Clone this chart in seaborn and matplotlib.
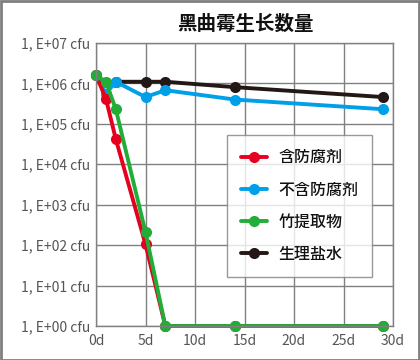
import numpy as np
import pandas as pd
import matplotlib
matplotlib.use("Agg")
import matplotlib.pyplot as plt
import seaborn as sns
from matplotlib.patches import Rectangle

sns.set_theme(style="white")
plt.rcParams['font.family'] = ['Noto Sans CJK JP', 'DejaVu Sans']

series_names = ["含防腐剂", "不含防腐剂", "竹提取物", "生理盐水"]
days_red = [0, 1, 2, 5, 7, 14, 29]
vals_red = [1.6e6, 4.2e5, 4.2e4, 1.05e2, 1, 1, 1]
days_blue = [0, 1, 2, 5, 7, 14, 29]
vals_blue = [1.6e6, 5.6e5, 1.1e6, 4.6e5, 6.8e5, 4.0e5, 2.3e5]
days_green = [0, 1, 2, 5, 7, 14, 29]
vals_green = [1.6e6, 1.1e6, 2.3e5, 2.1e2, 1, 1, 1]
days_black = [2, 5, 7, 14, 29]
vals_black = [1.1e6, 1.1e6, 1.1e6, 8.1e5, 4.6e5]

xticks = [0, 5, 10, 15, 20, 25, 30]
xtick_labels = ["0d", "5d", "10d", "15d", "20d", "25d", "30d"]
ytick_exps = [0, 1, 2, 3, 4, 5, 6, 7]
ytick_labels = ["1, E+00 cfu", "1, E+01 cfu", "1, E+02 cfu", "1, E+03 cfu",
                "1, E+04 cfu", "1, E+05 cfu", "1, E+06 cfu", "1, E+07 cfu"]
title = "黑曲霉生长数量"

colors = ["#e60020", "#00a0e9", "#22ac38", "#231815"]

frames = []
for name, d, v in zip(series_names,
                      [days_red, days_blue, days_green, days_black],
                      [vals_red, vals_blue, vals_green, vals_black]):
    frames.append(pd.DataFrame({"day": d, "value": v, "series": name}))
df = pd.concat(frames, ignore_index=True)

fig = plt.figure(figsize=(4.2, 3.6), dpi=100)
ax = fig.add_axes([96/420, 1-326/360, (393-96)/420, (326-43)/360])

sns.lineplot(data=df, x="day", y="value", hue="series", hue_order=series_names,
             palette=colors, marker="o", markersize=8, markeredgewidth=0,
             linewidth=2.8, ax=ax, legend=True)

# stacking order: black below blue, red below green
zorders = {colors[3]: 2.0, colors[1]: 2.1, colors[0]: 2.2, colors[2]: 2.3}
for line in ax.get_lines():
    line.set_clip_on(False)
    c = matplotlib.colors.to_hex(line.get_color())
    if c in zorders:
        line.set_zorder(zorders[c])

ax.set_yscale("log")
ax.set_ylim(1, 1e7)
ax.set_xlim(0, 30)
ax.set_xticks(xticks)
ax.set_xticklabels(xtick_labels)
ax.set_yticks([10**e for e in ytick_exps])
ax.set_yticklabels(ytick_labels)
ax.minorticks_off()
ax.tick_params(axis="both", length=0, labelsize=10, colors="#555555")
ax.tick_params(axis="y", pad=4)
ax.tick_params(axis="x", pad=6)
ax.set_xlabel("")
ax.set_ylabel("")
ax.grid(True, color="#808080", linewidth=1.0)
ax.set_axisbelow(True)
for s in ax.spines.values():
    s.set_color("#808080")
    s.set_linewidth(1.0)

leg = ax.legend(loc="upper left", bbox_to_anchor=((227-96)/297, (326-135)/283),
                frameon=True, fancybox=False, handlelength=1.6,
                prop={"size": 11.5, "weight": "medium"},
                labelspacing=0.95, borderpad=0.9, handletextpad=0.7,
                borderaxespad=0)
leg.get_frame().set_edgecolor("#808080")
leg.get_frame().set_linewidth(1.0)
leg.set_zorder(5)
for t in leg.get_texts():
    t.set_color("#111111")

fig.text(245/420, 1-24/360, title, ha="center", va="center", fontsize=14,
         fontweight="bold", color="#111111")

fig.patches.append(Rectangle((0.5/420, 0.5/360), 418.5/420, 358.5/360,
                             transform=fig.transFigure, fill=False,
                             edgecolor="#7f7f7f", linewidth=2.0))

fig.savefig("out.png", dpi=100)
